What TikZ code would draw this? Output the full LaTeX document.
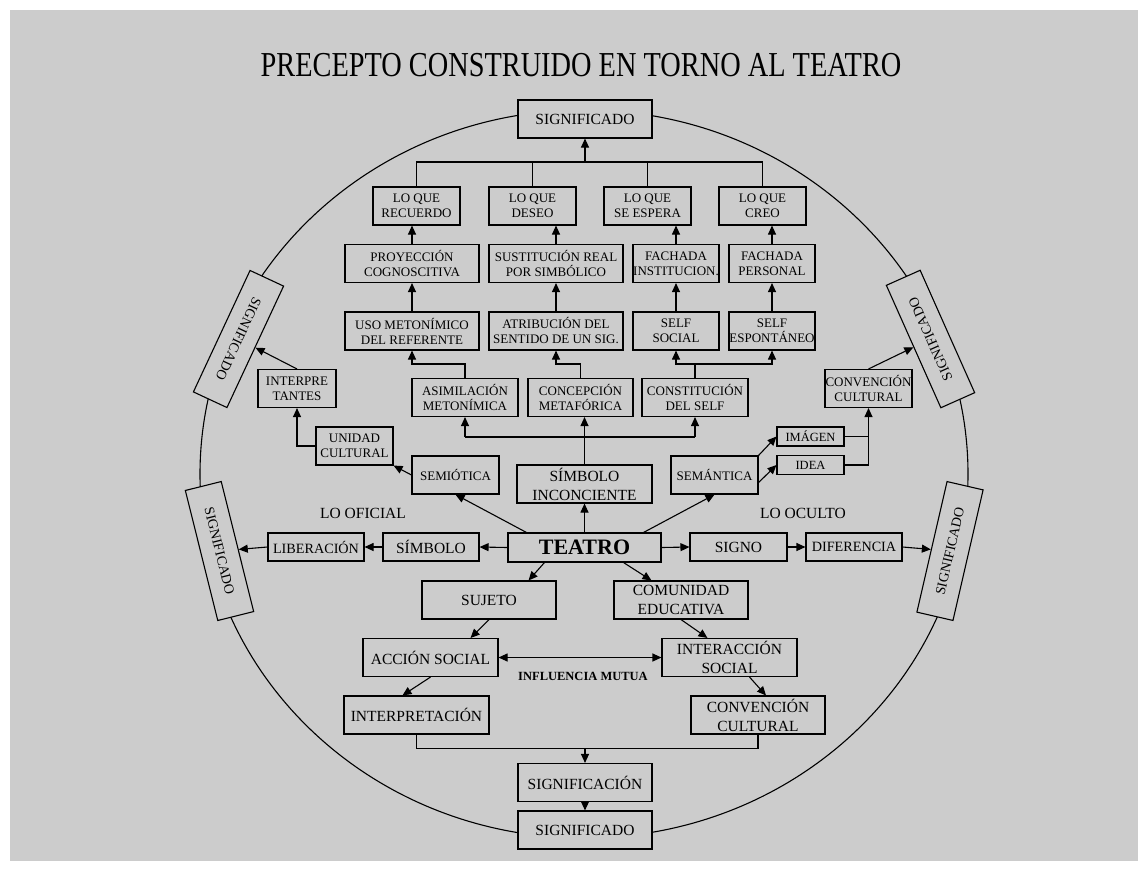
\documentclass[tikz,border=0pt]{standalone}
\usepackage{fontspec}
\setmainfont{Liberation Serif}
\usepackage{graphicx}
\usepackage{tikz}
\usepackage{xcolor}
\usetikzlibrary{arrows.meta, calc}
\definecolor{fondo}{RGB}{204,204,204}
\tikzset{
    caja/.style={draw, fill=fondo, line width=1.1pt, align=center, inner sep=0pt,
        minimum height=38pt, font=\fontsize{13}{15}\selectfont},
    grande/.style={font=\fontsize{15.5}{19}\selectfont},
    baja/.style={minimum height=28pt},
    flecha/.style={-{Triangle[length=9pt,width=8pt]}, line width=1.1pt},
    linea/.style={line width=1.1pt}
}
\newcommand{\caja}[5][]{
    \node[caja, minimum width=#4pt, #1] (#2) at (#3) {#5};
}
\newcommand{\significado}[3]{
    \node[caja, minimum width=134pt, minimum height=37pt, rotate=#3,
        font=\fontsize{14}{16}\selectfont] (#1) at (#2) {SIGNIFICADO};
}
\begin{document}
\begin{tikzpicture}[x=1pt, y=-1pt]
                        \useasboundingbox (0,0) rectangle (1148,871);
                        \fill[white] (0,0) rectangle (1148,871);
                        \fill[fondo] (10,10) rectangle (1138,861);
                        \node (titulo) at (581,65) {\scalebox{0.81}[1]{\fontsize{35}{40}\selectfont PRECEPTO CONSTRUIDO EN TORNO AL TEATRO}};
                        \draw[linea] (584,474) ellipse [x radius=384pt, y radius=364pt];

                        \caja[grande]{sig}{585,119}{134}{SIGNIFICADO}
                        \caja{rec}{416.5,206}{87}{LO QUE\\RECUERDO}
                        \caja{deseo}{532.5,206}{87}{LO QUE\\DESEO}
                        \caja{espera}{647.5,206}{87}{LO QUE\\SE ESPERA}
                        \caja{creo}{762.5,206}{87}{LO QUE\\CREO}
                        \caja{proy}{412,263.5}{134}{PROYECCIÓN\\COGNOSCITIVA}
                        \caja{sust}{556,263.5}{134}{SUSTITUCIÓN REAL\\POR SIMBÓLICO}
                        \caja{fachi}{676,263.5}{86}{FACHADA\\INSTITUCION.}
                        \caja{fachp}{772,263.5}{86}{FACHADA\\PERSONAL}
                        \caja{uso}{412,331}{134}{USO METONÍMICO\\DEL REFERENTE}
                        \caja{atrib}{556,331}{134}{ATRIBUCIÓN DEL\\SENTIDO DE UN SIG.}
                        \caja{selfs}{676,331}{86}{SELF\\SOCIAL}
                        \caja{selfe}{772,331}{86}{SELF\\ESPONTÁNEO}
                        \caja{asim}{465,397.5}{106}{ASIMILACIÓN\\METONÍMICA}
                        \caja{conc}{580.5,397.5}{105}{CONCEPCIÓN\\METAFÓRICA}
                        \caja{const}{695,397.5}{106}{CONSTITUCIÓN\\DEL SELF}

                        \caja{interp}{297,388.5}{78}{INTERPRE\\TANTES}
                        \caja{unid}{354.5,446}{77}{UNIDAD\\CULTURAL}
                        \caja{semio}{455.5,475}{87}{SEMIÓTICA}
                        \caja[grande]{simbinc}{584.5,484}{135}{SÍMBOLO\\INCONCIENTE}
                        \caja{sem}{714.5,475}{87}{SEMÁNTICA}
                        \caja[minimum height=19pt, font=\fontsize{12.5}{14}\selectfont]{img}{810.5,436.5}{67}{IMÁGEN}
                        \caja[minimum height=19pt, font=\fontsize{12.5}{14}\selectfont]{idea}{810.5,465}{67}{IDEA}
                        \caja{conv}{868.5,388.5}{87}{CONVENCIÓN\\CULTURAL}

                        \caja[baja, minimum height=29pt, font=\fontsize{22}{24}\bfseries]{teatro}{584.5,547.5}{153}{TEATRO}
                        \caja[baja, grande]{simb}{431,547}{96}{SÍMBOLO}
                        \caja[baja, font=\fontsize{14.2}{16}\selectfont]{lib}{316,547}{96}{LIBERACIÓN}
                        \caja[baja, grande]{signo}{738.5,547}{97}{SIGNO}
                        \caja[baja, font=\fontsize{14.2}{16}\selectfont]{dif}{854,547}{96}{DIFERENCIA}
                        \node[grande] (oficial) at (363,513) {LO OFICIAL};
                        \node[grande] (oculto) at (803,513) {LO OCULTO};

                        \caja[grande]{suj}{489,600}{134}{SUJETO}
                        \caja[grande]{com}{681,600}{134}{COMUNIDAD\\EDUCATIVA}
                        \caja[grande]{acc}{430.5,657.5}{135}{ACCIÓN SOCIAL}
                        \caja[grande]{inter}{729.5,657.5}{135}{INTERACCIÓN\\SOCIAL}
                        \node[font=\fontsize{12.5}{14}\bfseries] (influ) at (583,676) {INFLUENCIA MUTUA};
                        \caja[grande]{interp2}{416.5,715}{145}{INTERPRETACIÓN}
                        \caja[grande]{conv2}{758,715}{134}{CONVENCIÓN\\CULTURAL}
                        \caja[grande]{signif}{585,782.5}{134}{SIGNIFICACIÓN}
                        \caja[grande]{sigab}{585,830}{134}{SIGNIFICADO}

                        \significado{sul}{238.5,339}{-115}
                        \significado{sll}{219.5,551}{-76}
                        \significado{sur}{930.5,339}{114}
                        \significado{slr}{950,551}{77}

                        \coordinate (ramaA) at (585,162);
                        \coordinate (ramaB) at (585,437);
                        \coordinate (ramaC) at (585,748);
                        \draw[linea]
                        (rec.north) -- (rec.north |- ramaA) -- (creo.north |- ramaA) -- (creo.north)
                        (deseo.north) -- (deseo.north |- ramaA)
                        (espera.north) -- (espera.north |- ramaA);
                        \draw[flecha] (ramaA) -- (sig.south);
                        \draw[flecha] (proy.north) -- (proy.north |- rec.south);
                        \draw[flecha] (sust.north) -- (sust.north |- deseo.south);
                        \draw[flecha] (fachi.north) -- (fachi.north |- espera.south);
                        \draw[flecha] (fachp.north) -- (fachp.north |- creo.south);
                        \draw[flecha] (uso.north) -- (proy.south);
                        \draw[flecha] (atrib.north) -- (sust.south);
                        \draw[flecha] (selfs.north) -- (fachi.south);
                        \draw[flecha] (selfe.north) -- (fachp.south);
                        \draw[flecha] (asim.north) -- ++(0,-14) -| (uso.south);
                        \draw[flecha] (conc.north) -- ++(0,-14) -| (atrib.south);
                        \draw[linea] (const.north) -- ++(0,-14);
                        \draw[flecha] ($(const.north)+(0,-14)$) -| (selfs.south);
                        \draw[flecha] ($(const.north)+(0,-14)$) -| (selfe.south);

                        \draw[flecha] (simbinc.north) -- (simbinc.north |- conc.south);
                        \draw[linea] (asim.south |- ramaB) -- (const.south |- ramaB);
                        \draw[flecha] (asim.south |- ramaB) -- (asim.south);
                        \draw[flecha] (const.south |- ramaB) -- (const.south);

                        \draw[flecha] (semio.west) -- (unid.south east);
                        \draw[flecha] (unid.west) -| (interp.south);
                        \draw[flecha] (interp.north) -- (sul);
                        \draw[flecha] (sem.north east) -- (img.west);
                        \draw[flecha] ($(sem.south east)+(0,-12)$) -- (idea.west);
                        \draw[linea] (img.east) -- (img.east -| conv.south);
                        \draw[flecha] (idea.east) -| (conv.south);
                        \draw[flecha] (conv.north) -- (sur);

                        \draw[flecha] ($(teatro.north west)+(19,0)$) -- (semio.south);
                        \draw[flecha] (teatro.north) -- (simbinc.south);
                        \draw[flecha] ($(teatro.north east)+(-18,0)$) -- (sem.south);
                        \draw[flecha] (teatro.west) -- (simb.east);
                        \draw[flecha] (simb.west) -- (lib.east);
                        \draw[flecha] (lib.west) -- (sll);
                        \draw[flecha] (teatro.east) -- (signo.west);
                        \draw[flecha] (signo.east) -- (dif.west);
                        \draw[flecha] (dif.east) -- (slr);
                        \draw[flecha] ($(teatro.south west)+(37,0)$) -- ($(suj.north east)+(-28,0)$);
                        \draw[flecha] ($(teatro.south east)+(-38,0)$) -- ($(com.north west)+(38,0)$);

                        \draw[flecha] (suj.south) -- ($(acc.north east)+(-28,0)$);
                        \draw[flecha] (com.south) -- ($(inter.north west)+(46,0)$);
                        \draw[{Triangle[length=9pt,width=8pt]}-{Triangle[length=9pt,width=8pt]}, linea] (acc.east) -- (inter.west);
                        \draw[flecha] (acc.south) -- ($(interp2.north west)+(59,0)$);
                        \draw[flecha] ($(inter.south)+(20,0)$) -- ($(conv2.north)+(8,0)$);
                        \draw[linea] (interp2.south) -- ++(0,14) -| (conv2.south);
                        \draw[flecha] (ramaC) -- (signif.north);
                        \draw[flecha] (signif.south) -- (sigab.north);
\end{tikzpicture}
\end{document}
